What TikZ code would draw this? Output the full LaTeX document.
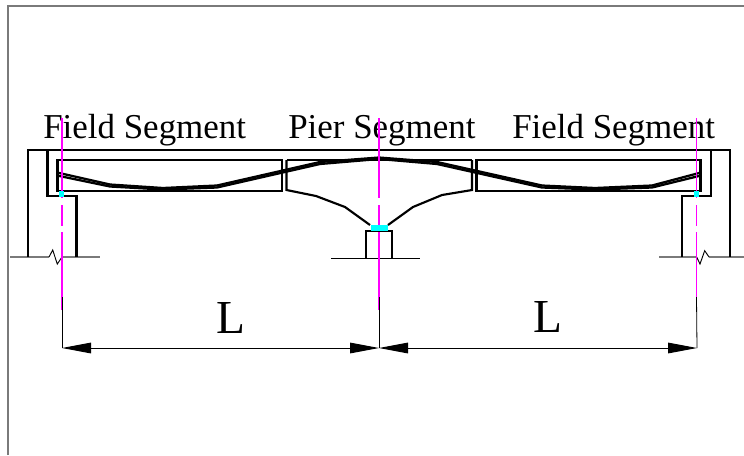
\documentclass[tikz,border=0pt]{standalone}
\usepackage{fontspec}
\setmainfont{Liberation Serif}
\usetikzlibrary{arrows.meta}
\definecolor{axismag}{RGB}{255,0,255}
\definecolor{bearcyan}{RGB}{0,255,255}
\tikzset{
 frameline/.style={draw=black!52,line width=1.2pt},
 struct/.style={draw=black,line width=1.6pt,line join=miter},
 tendon/.style={draw=black,line width=1.7pt,line join=round},
 groundline/.style={draw=black!52,line width=1pt},
 zig/.style={draw=black,line width=0.7pt},
 axis/.style={draw=axismag,line width=1.15pt},
 bearing/.style={fill=bearcyan,draw=none},
 seglabel/.style={anchor=base west,inner sep=0pt,font=\fontsize{26.2}{30}\selectfont},
 dimlabel/.style={anchor=base west,inner sep=0pt,font=\fontsize{35.5}{40}\selectfont},
 extline/.style={draw=black,line width=0.6pt},
 dimline/.style={draw=black,line width=0.7pt,{Triangle[length=21.75pt,width=8pt]}-{Triangle[length=21.75pt,width=8pt]},shorten >=0pt,shorten <=0pt},
}
\begin{document}
\begin{tikzpicture}[x=0.75pt,y=-0.75pt]
\useasboundingbox (0,0) rectangle (744,455);
% frame
\draw[frameline] (8,455) -- (8,6) -- (744,6);
% labels
\node[seglabel] (fs1) at (43,138) {Field Segment};
\node[seglabel] (ps) at (288,138) {Pier Segment};
\node[seglabel] (fs2) at (512,138) {Field Segment};
\node[dimlabel] (l1) at (216,333) {L};
\node[dimlabel] (l2) at (533,332) {L};
% ground lines
\draw[groundline] (10,257) -- (49,257);
\draw[groundline] (62,257) -- (100,257);
\draw[zig] (49,257) -- (52.7,250) -- (57.3,264) -- (62,257);
\draw[groundline] (659,257) -- (696.7,257);
\draw[groundline] (709,257) -- (744,257);
\draw[zig] (696.7,257) -- (700,264) -- (704.7,250.7) -- (709,257);
\draw[draw=black,line width=0.75pt] (331,258) -- (420,258);
% deck and abutments
\draw[struct] (28,257) -- (28,150) -- (730,150) -- (730,257);
\draw[struct] (47.5,150) -- (47.5,196) -- (76.5,196) -- (76.5,257);
\draw[struct] (711,150) -- (711,196) -- (682,196) -- (682,257);
% precast segments
\draw[struct] (282,160) rectangle (57.5,191);
\draw[struct] (476.5,160) rectangle (700.5,191);
\draw[struct] (286.5,160) -- (286.5,190) -- (316,196) -- (345,207) -- (370,225);
\draw[struct] (472,160) -- (472,190) -- (442,195) -- (413,207) -- (388,225);
\draw[struct] (286.5,160) -- (472,160);
% pier
\draw[struct] (366,258) -- (366,231) -- (392,231) -- (392,258);
% tendons
\draw[tendon] (57,172.5) -- (110,184.5) -- (163,188) -- (217,185.5) -- (320,162) -- (379,157.5) -- (437,162) -- (542,185.5) -- (595,188) -- (652,185.5) -- (701,172.5);
\draw[tendon] (57,175.5) -- (110,186.5) -- (163,189.5) -- (217,187.5) -- (320,164) -- (379,159) -- (437,164) -- (542,187.5) -- (595,189.5) -- (652,187.5) -- (701,175.5);
% axes
\foreach \ax in {62,379,696.5}{
 \draw[axis] (\ax,118) -- (\ax,198);
 \draw[axis] (\ax,205) -- (\ax,226);
 \draw[axis] (\ax,232) -- (\ax,310);
}
% bearings
\fill[bearing] (59,191) rectangle (64,197);
\fill[bearing] (694,191) rectangle (699.3,197);
\fill[bearing] (371,225) rectangle (388,231);
% dimension
\coordinate (d1) at (62,348);
\coordinate (d2) at (379,348);
\coordinate (d3) at (697,348);
\draw[extline] (62,297) -- (d1);
\draw[extline] (379,297) -- (d2);
\draw[extline] (696.5,297) -- (d3);
\draw[dimline] (d1) -- (d2);
\draw[dimline] (d2) -- (d3);
\end{tikzpicture}
\end{document}
